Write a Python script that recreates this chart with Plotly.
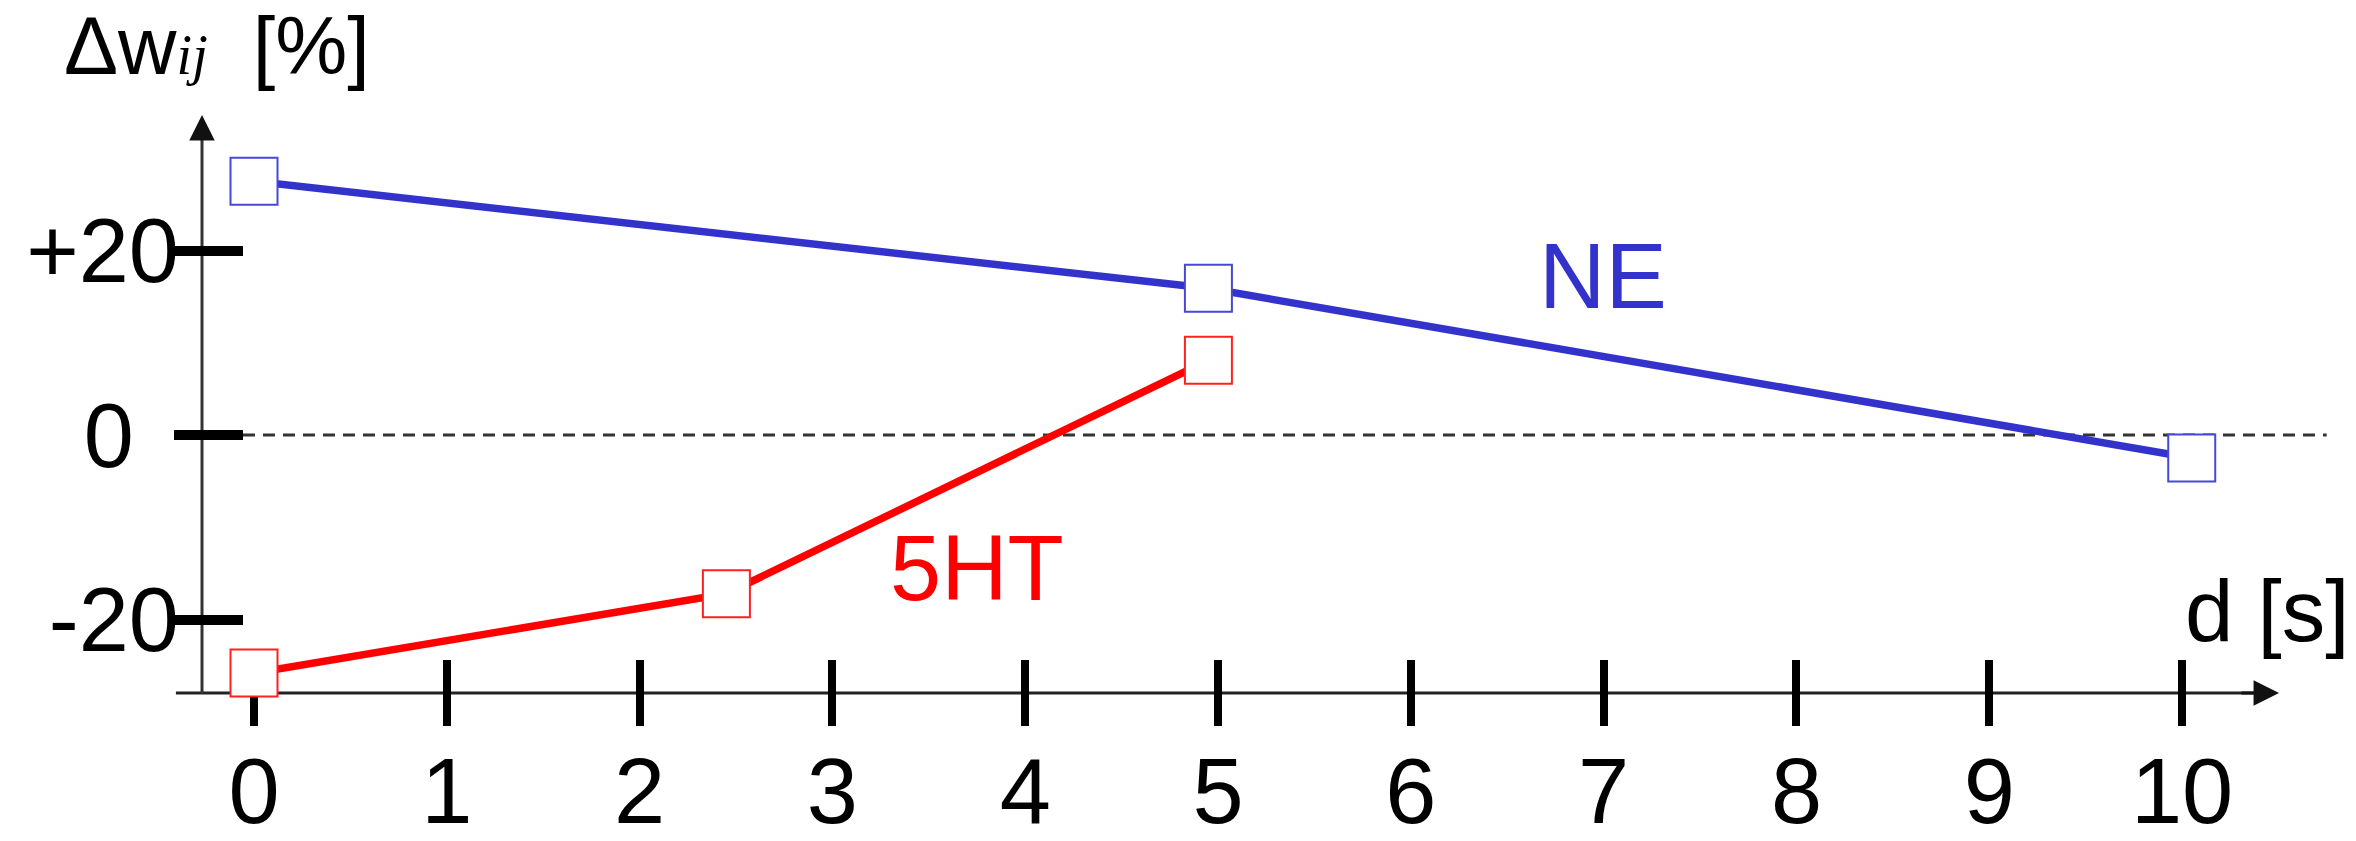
import plotly.graph_objects as go

# values
ne_d = [0, 4.95, 10.05]
ne_w = [27.5, 15.9, -2.5]
ht_d = [0, 2.45, 4.95]
ht_w = [-25.8, -17.2, 8.1]

x_ticks = list(range(11))
y_ticks = [-20, 0, 20]
y_tick_text = ["-20", "0\u2002", "+20"]

BLUE = "#3333CC"
RED = "#FF0000"
FONT = "Liberation Sans, Arial, sans-serif"

fig = go.Figure()

fig.add_trace(go.Scatter(
    x=ne_d, y=ne_w, mode="lines+markers", cliponaxis=False,
    line=dict(color=BLUE, width=7.5),
    marker=dict(symbol="square", size=47, color="white", line=dict(color="#4848D8", width=2)),
))
fig.add_trace(go.Scatter(
    x=ht_d, y=ht_w, mode="lines+markers", cliponaxis=False,
    line=dict(color=RED, width=7.5),
    marker=dict(symbol="square", size=47, color="white", line=dict(color="#FF2020", width=2)),
))

# dashed zero line
fig.add_shape(type="line", xref="x", yref="y", x0=-0.057, x1=10.75, y0=0, y1=0,
              line=dict(color="#333333", width=3, dash="12px,8px"), layer="below")

# hand-drawn looking axes with arrow heads
x_axis_y = -27.97
y_axis_x = -0.2697
fig.add_shape(type="line", xref="x", yref="y", x0=-0.405, x1=10.42, y0=x_axis_y, y1=x_axis_y,
              line=dict(color="#222222", width=3), layer="below")
fig.add_shape(type="line", xref="x", yref="y", x0=y_axis_x, x1=y_axis_x, y0=-28.08, y1=32.6,
              line=dict(color="#333333", width=3), layer="below")
fig.add_annotation(x=10.503, y=x_axis_y, ax=10.3, ay=x_axis_y, axref="x", ayref="y",
                   xref="x", yref="y", text="", showarrow=True, arrowhead=2,
                   arrowsize=1.7, arrowwidth=3, arrowcolor="#111111", standoff=0)
fig.add_annotation(x=y_axis_x, y=34.69, ax=y_axis_x, ay=32.0, axref="x", ayref="y",
                   xref="x", yref="y", text="", showarrow=True, arrowhead=2,
                   arrowsize=1.7, arrowwidth=3, arrowcolor="#111111", standoff=0)

# labels
fig.add_annotation(x=6.997, y=17.24, text="NE", showarrow=False,
                   font=dict(family=FONT, size=92, color=BLUE))
fig.add_annotation(x=3.75, y=-14.42, text="5HT", showarrow=False,
                   font=dict(family=FONT, size=92, color=RED))
fig.add_annotation(x=10.438, y=-18.97, text="d [s]", showarrow=False,
                   font=dict(family=FONT, size=87, color="black"))
fig.add_annotation(
    x=-0.996, y=42.2, xanchor="left", showarrow=False,
    text="\u0394w<i><span style='font-family:Liberation Serif;font-size:56px'>ij</span></i>\u00a0 [%]",
    font=dict(family=FONT, size=81, color="black"),
)

fig.update_layout(
    width=2356, height=841,
    margin=dict(l=0, r=0, t=0, b=0, autoexpand=False),
    paper_bgcolor="white", plot_bgcolor="white",
    showlegend=False,
    xaxis=dict(
        range=[-1.3174, 10.902], anchor="free", position=0.2164, automargin=False,
        tickvals=x_ticks, ticks="outside", ticklen=66, tickwidth=8, tickcolor="black",
        ticklabelstandoff=-13, layer="below traces",
        showline=False, showgrid=False, zeroline=False,
        tickfont=dict(family=FONT, size=92, color="black"),
    ),
    yaxis=dict(
        range=[-44.01, 47.154], anchor="free", position=0.1031, automargin=False,
        tickvals=y_ticks, ticktext=y_tick_text, ticks="outside", ticklen=69, tickwidth=10,
        tickcolor="black", layer="below traces", ticklabelstandoff=-23,
        showline=False, showgrid=False, zeroline=False,
        tickfont=dict(family=FONT, size=90, color="black"),
    ),
)

fig.write_html("out.html", config={"displayModeBar": False},
               post_script="document.body.style.margin='0';document.body.style.overflow='hidden';")
